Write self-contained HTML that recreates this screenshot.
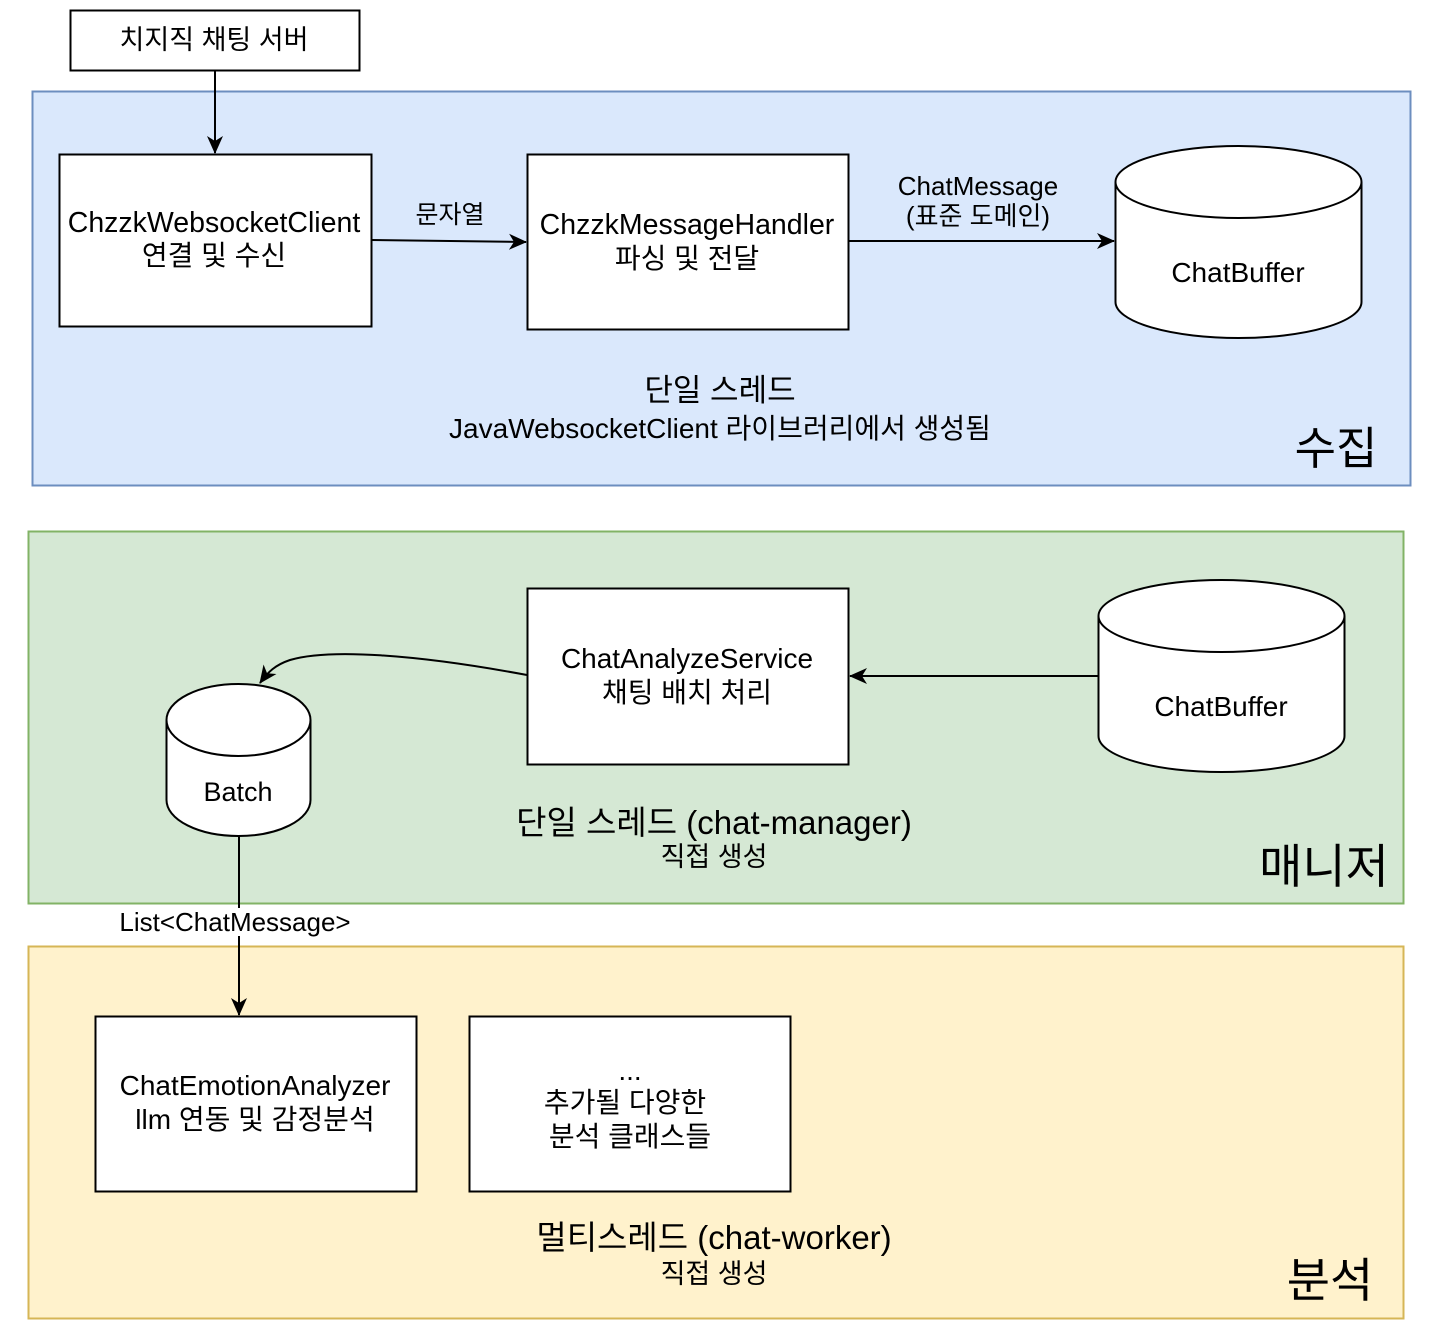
<!DOCTYPE html>
<html><head><meta charset="utf-8">
<style>
html,body{margin:0;padding:0;background:#fff;}
svg{display:block;}
text{font-family:"Liberation Sans","Noto Sans CJK KR",sans-serif;fill:#000;}
</style></head>
<body>
<svg width="1430" height="1344" viewBox="0 0 1430 1344" xmlns="http://www.w3.org/2000/svg">
<defs>
<marker id="ar" markerWidth="18" markerHeight="18" refX="17" refY="9" orient="auto" markerUnits="userSpaceOnUse">
<path d="M0,1 L18,9 L0,17 L5,9 Z" fill="#000"/>
</marker>
</defs>
<rect x="32.5" y="91.5" width="1378" height="394" fill="#dae8fc" stroke="#6c8ebf" stroke-width="2"/>
<rect x="28.5" y="531.5" width="1375" height="372" fill="#d5e8d4" stroke="#82b366" stroke-width="2"/>
<rect x="28.5" y="946.5" width="1375" height="372" fill="#fff2cc" stroke="#d6b656" stroke-width="2"/>

<rect x="70.5" y="10.5" width="289" height="60" fill="#fff" stroke="#000" stroke-width="2"/>
<text x="214" y="49" font-size="27" text-anchor="middle">치지직 채팅 서버</text>
<line x1="215" y1="70" x2="215" y2="153" stroke="#000" stroke-width="2" marker-end="url(#ar)"/>

<rect x="59.5" y="154.5" width="312" height="172" fill="#fff" stroke="#000" stroke-width="2"/>
<text x="214" y="232" font-size="28.5" text-anchor="middle">ChzzkWebsocketClient</text>
<text x="214" y="265" font-size="28" text-anchor="middle">연결 및 수신</text>
<line x1="371" y1="240" x2="526" y2="242" stroke="#000" stroke-width="2" marker-end="url(#ar)"/>
<text x="450" y="223" font-size="25" text-anchor="middle">문자열</text>

<rect x="527.5" y="154.5" width="321" height="175" fill="#fff" stroke="#000" stroke-width="2"/>
<text x="687" y="234" font-size="28.5" text-anchor="middle">ChzzkMessageHandler</text>
<text x="687" y="268" font-size="28" text-anchor="middle">파싱 및 전달</text>
<line x1="849" y1="241" x2="1114" y2="241" stroke="#000" stroke-width="2" marker-end="url(#ar)"/>
<text x="978" y="195" font-size="26" text-anchor="middle">ChatMessage</text>
<text x="978" y="225" font-size="26" text-anchor="middle">(표준 도메인)</text>

<path d="M1115.5,182 A123,36 0 0 1 1361.5,182 L1361.5,302 A123,36 0 0 1 1115.5,302 Z" fill="#fff" stroke="#000" stroke-width="2"/>
<path d="M1115.5,182 A123,36 0 0 0 1361.5,182" fill="none" stroke="#000" stroke-width="2"/>
<text x="1238" y="282" font-size="28" text-anchor="middle">ChatBuffer</text>

<text x="720" y="401" font-size="31" text-anchor="middle">단일 스레드</text>
<text x="720" y="438" font-size="28" text-anchor="middle">JavaWebsocketClient 라이브러리에서 생성됨</text>
<text x="1336" y="464" font-size="45" text-anchor="middle">수집</text>

<rect x="527.5" y="588.5" width="321" height="176" fill="#fff" stroke="#000" stroke-width="2"/>
<text x="687" y="668" font-size="28" text-anchor="middle">ChatAnalyzeService</text>
<text x="687" y="702" font-size="28" text-anchor="middle">채팅 배치 처리</text>

<path d="M1098.5,616 A123,36 0 0 1 1344.5,616 L1344.5,736 A123,36 0 0 1 1098.5,736 Z" fill="#fff" stroke="#000" stroke-width="2"/>
<path d="M1098.5,616 A123,36 0 0 0 1344.5,616" fill="none" stroke="#000" stroke-width="2"/>
<text x="1221" y="716" font-size="28" text-anchor="middle">ChatBuffer</text>
<line x1="1098" y1="676" x2="850" y2="676" stroke="#000" stroke-width="2" marker-end="url(#ar)"/>

<path d="M166.5,720 A72,36 0 0 1 310.5,720 L310.5,800 A72,36 0 0 1 166.5,800 Z" fill="#fff" stroke="#000" stroke-width="2"/>
<path d="M166.5,720 A72,36 0 0 0 310.5,720" fill="none" stroke="#000" stroke-width="2"/>
<text x="238" y="801" font-size="27" text-anchor="middle">Batch</text>
<path d="M527,675 C420,655 330,648 290,660 C275,665 268,672 260,683" fill="none" stroke="#000" stroke-width="2" marker-end="url(#ar)"/>

<text x="714" y="834" font-size="33" text-anchor="middle">단일 스레드 (chat-manager)</text>
<text x="714" y="866" font-size="27" text-anchor="middle">직접 생성</text>
<text x="1324" y="883" font-size="47" text-anchor="middle">매니저</text>

<line x1="239" y1="836" x2="239" y2="1015" stroke="#000" stroke-width="2" marker-end="url(#ar)"/>
<rect x="112" y="908" width="246" height="28" fill="#fff"/>
<text x="235" y="931" font-size="26" text-anchor="middle">List&lt;ChatMessage&gt;</text>

<rect x="95.5" y="1016.5" width="321" height="175" fill="#fff" stroke="#000" stroke-width="2"/>
<text x="255" y="1095" font-size="28" text-anchor="middle">ChatEmotionAnalyzer</text>
<text x="255" y="1129" font-size="28" text-anchor="middle">llm 연동 및 감정분석</text>
<rect x="469.5" y="1016.5" width="321" height="175" fill="#fff" stroke="#000" stroke-width="2"/>
<text x="630" y="1080" font-size="28" text-anchor="middle">...</text>
<text x="625" y="1112" font-size="28" text-anchor="middle">추가될 다양한</text>
<text x="630" y="1146" font-size="28" text-anchor="middle">분석 클래스들</text>

<text x="714" y="1249" font-size="33" text-anchor="middle">멀티스레드 (chat-worker)</text>
<text x="714" y="1283" font-size="27" text-anchor="middle">직접 생성</text>
<text x="1330" y="1297" font-size="47" text-anchor="middle">분석</text>
</svg>
</body></html>
